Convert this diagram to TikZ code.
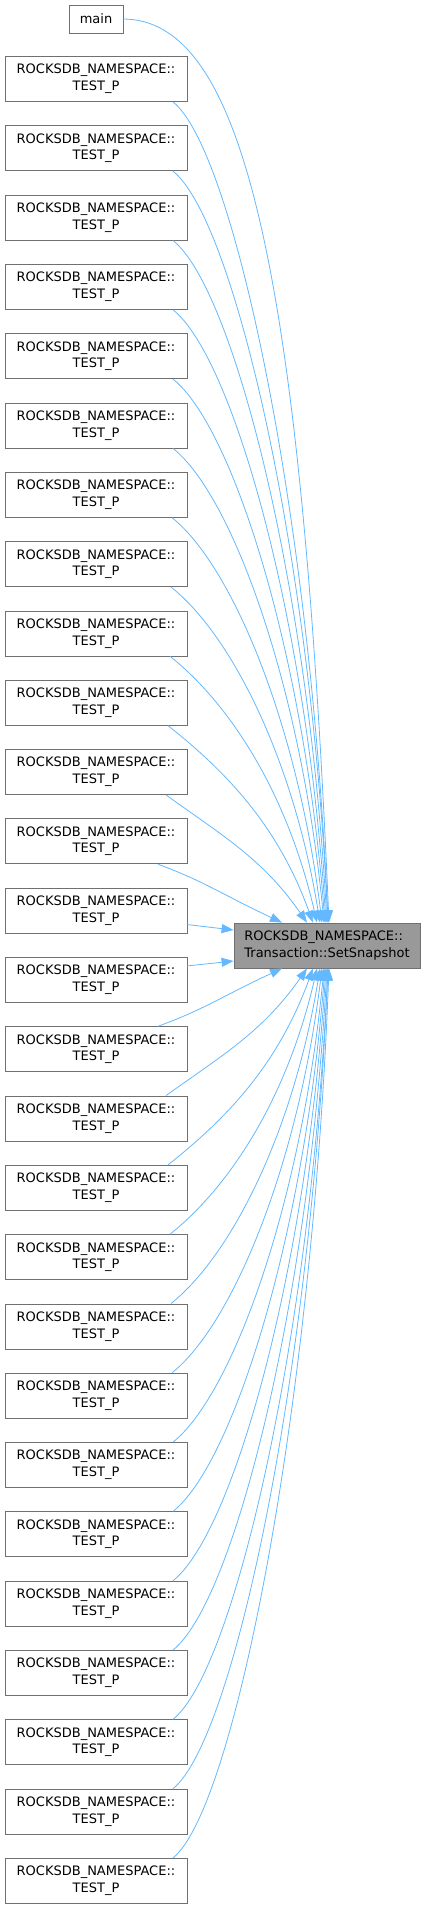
\documentclass[tikz,border=0pt]{standalone}
\usepackage{fontspec}
\setmainfont{DejaVu Sans}
\usetikzlibrary{arrows.meta}
\definecolor{edgeblue}{HTML}{63B8FF}
\definecolor{boxgray}{HTML}{707070}
\definecolor{fillgray}{HTML}{999999}
\tikzset{
  fn/.style = {draw = boxgray, fill = white, line width = .8pt, inner sep = 0pt,
    minimum width = 182pt, minimum height = 45pt, align = center,
    font = \fontsize{13}{16.7}\selectfont},
  call/.style = {draw = edgeblue, line width = .8pt,
    -{Triangle[length = 12pt, width = 9pt, fill = edgeblue]}}
}
\begin{document}
\begin{tikzpicture}[x = 1pt, y = -1pt]
  \useasboundingbox (0,0) rectangle (425,1910);
  \node [fn, minimum width = 54pt, minimum height = 28pt] (main) at (96,19) {main};
  \foreach \i in {0,...,26}
    \node [fn] (t\i) at (96,{79 + 69.3*\i}) {ROCKSDB\_NAMESPACE::\\TEST\_P};
  \node [fn, fill = fillgray, minimum width = 186pt, align = left] (target)
    at (327,945.5) {ROCKSDB\_NAMESPACE::\\Transaction::SetSnapshot};
  % callers above
  \draw [call] (main.east) .. controls (240,20) and (300,250)
    .. ([xshift = 2pt]target.north);
  \foreach \i/\xs/\xe in {0/173/328, 1/173/328, 2/173/327, 3/173/326,
      4/173/325, 5/173/324, 6/172/322, 7/171/320, 8/170/317, 9/168/313,
      10/166/307, 11/158/282}
    {
      \pgfmathsetmacro\ys{79 + 69.3*\i + 22.5}
      \pgfmathsetmacro\kx{\xe - \xs}
      \pgfmathsetmacro\ky{923 - \ys}
      \pgfmathsetmacro\kr{min(.8, .8*\ky/\kx)}
      \pgfmathsetmacro\ks{min(\kx/\ky, .7*(127/\ky)^1.5)}
      \draw [call] ([xshift = {\xs - 96}]t\i.south)
        .. controls ({\xs + .39*\kx}, {\ys + .39*\kx*\kr})
               and ({\xe - \ks*.5*\ky}, {923 - .5*\ky})
        .. ([xshift = {\xe - 327}]target.north);
    }
  % direct neighbours
  \draw [call] ([yshift = -14pt]t12.east) -- ([yshift = 15.5pt]target.west);
  \draw [call] ([yshift = 14pt]t13.east) -- ([yshift = -15.5pt]target.west);
  % callers below
  \foreach \i/\xs/\xe in {14/158/282, 15/166/307, 16/168/313, 17/170/317,
      18/171/320, 19/172/322, 20/173/324, 21/173/325, 22/173/326,
      23/173/327, 24/173/328, 25/173/328, 26/173/329}
    {
      \pgfmathsetmacro\ys{79 + 69.3*\i - 22.5}
      \pgfmathsetmacro\kx{\xe - \xs}
      \pgfmathsetmacro\ky{\ys - 968}
      \pgfmathsetmacro\kr{min(.8, .8*\ky/\kx)}
      \pgfmathsetmacro\ks{min(\kx/\ky, .7*(127/\ky)^1.5)}
      \draw [call] ([xshift = {\xs - 96}]t\i.north)
        .. controls ({\xs + .39*\kx}, {\ys - .39*\kx*\kr})
               and ({\xe - \ks*.5*\ky}, {968 + .5*\ky})
        .. ([xshift = {\xe - 327}]target.south);
    }
\end{tikzpicture}
\end{document}
